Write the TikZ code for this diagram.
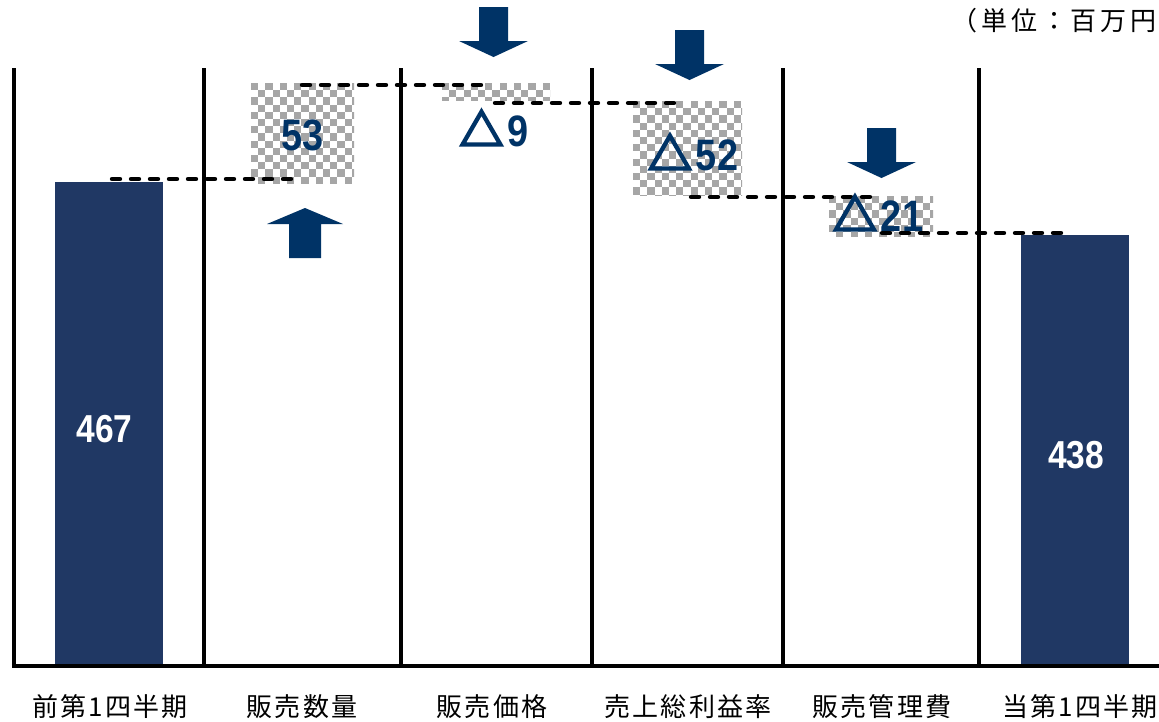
\documentclass[tikz,border=0pt]{standalone}
\usepackage{fontspec}
\newfontfamily\jpf{Noto Sans CJK JP}
\newfontfamily\trif[FakeBold=5]{Noto Sans CJK JP}
\newfontfamily\numf[FakeStretch=0.86]{Liberation Sans}
\definecolor{barc}{HTML}{203864}
\definecolor{arrc}{HTML}{003366}
\definecolor{chkc}{HTML}{A6A6A6}
\newcommand\tri{{\trif △}\hspace{4pt}}
\newcommand\chkbox[4]{%
  \begin{scope}
    \clip (#1,#2) rectangle (#3,#4);
    \foreach \i in {0,...,16}{\foreach \j in {0,...,15}{%
      \pgfmathtruncatemacro\pp{mod(\i+\j,2)}%
      \ifnum\pp=0 \fill[chkc] ({#1+\i*7.2},{#2+\j*7.2}) rectangle ++(7.2,7.2);\fi}}
  \end{scope}}
\newcommand\downarr[2]{%
  \fill[arrc] ({#1-14.5},#2) -- ({#1+14.5},#2) -- ({#1+14.5},{#2+34}) -- ({#1+34.5},{#2+34})
    -- (#1,{#2+50}) -- ({#1-34.5},{#2+34}) -- ({#1-14.5},{#2+34}) -- cycle;}
\begin{document}
\begin{tikzpicture}[x=1pt,y=-1pt,
  vline/.style={line width=4.3pt},
  dline/.style={line width=4.4pt, dash pattern=on 8pt off 11pt, line cap=round},
  bnum/.style={text=arrc, font=\numf\bfseries\fontsize{44}{44}\selectfont, anchor=base, inner sep=0pt},
  wnum/.style={text=white, font=\numf\bfseries\fontsize{39}{39}\selectfont, anchor=base, inner sep=0pt},
  lab/.style={font=\jpf\fontsize{26}{26}\selectfont\addfontfeature{LetterSpace=8}, inner sep=0pt},
  unitlab/.style={font=\jpf\fontsize{26}{26}\selectfont\addfontfeature{LetterSpace=15}, inner sep=0pt, anchor=east}]
\useasboundingbox (0,0) rectangle (1159,721);
\fill[white] (0,0) rectangle (1159,721);
% checkered boxes
\chkbox{251}{83}{354}{183}
\chkbox{442}{83}{550}{100}
\chkbox{633}{101}{742}{195}
\chkbox{829}{196}{933}{236}
% bars
\fill[barc] (55,182) rectangle (163,664);
\fill[barc] (1021,235) rectangle (1129,664);
% frame lines
\foreach \xx in {14,204,401,592,783,979}{\draw[vline] (\xx,68) -- (\xx,666);}
\draw[line width=4.5pt] (11.85,666) -- (1159,666);
% dashed connectors
\coordinate (d1a) at (112,179); \coordinate (d1b) at (298,179);
\coordinate (d2a) at (302,85);  \coordinate (d2b) at (488,85);
\coordinate (d3a) at (495,103); \coordinate (d3b) at (680,103);
\coordinate (d4a) at (691,197); \coordinate (d4b) at (875,197);
\coordinate (d5a) at (882,233); \coordinate (d5b) at (1068,233);
\draw[dline] (d1a) -- (d1b);
\draw[dline] (d2a) -- (d2b);
\draw[dline] (d3a) -- (d3b);
\draw[dline] (d4a) -- (d4b);
\draw[dline] (d5a) -- (d5b);
% arrows
\fill[arrc] (289,258) -- (289,224) -- (267,224) -- (305,208) -- (343,224) -- (321,224) -- (321,258) -- cycle;
\downarr{493.5}{7}
\downarr{689.5}{30}
\downarr{881.5}{128}
% values
\node[bnum] (v53) at (303,150) {53};
\node[bnum] (v9) at (494,146) {\tri 9};
\node[bnum] (v52) at (693,170) {\tri 52};
\node[bnum] (v21) at (878,231) {\tri 21};
\node[wnum] (v467) at (104.5,442) {467};
\node[wnum] (v438) at (1076,468) {438};
% labels
\node[unitlab] (unit) at (1157,21) {（単位：百万円};
\node[lab] (l1) at (110,707) {前第1四半期};
\node[lab] (l2) at (302,707) {販売数量};
\node[lab] (l3) at (492,707) {販売価格};
\node[lab] (l4) at (688,707) {売上総利益率};
\node[lab] (l5) at (882,707) {販売管理費};
\node[lab] (l6) at (1080,707) {当第1四半期};
\end{tikzpicture}
\end{document}
